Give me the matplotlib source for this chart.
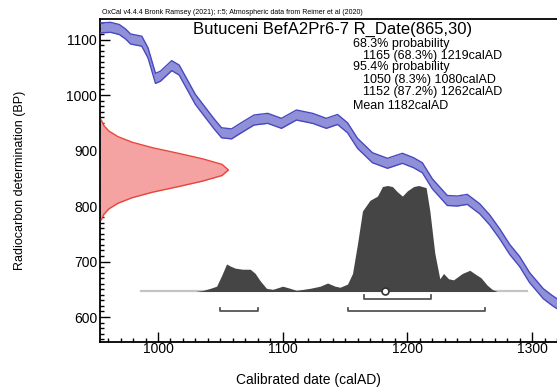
import numpy as np
import matplotlib
matplotlib.use("Agg")
import matplotlib.pyplot as plt
from matplotlib.ticker import MultipleLocator

plt.rcParams['font.family'] = ['Liberation Sans', 'DejaVu Sans']

# calibration curve (IntCal20 band), cal AD vs BP
curve_year = [954, 962, 969, 974, 978, 987, 992, 998, 1002, 1011, 1017, 1030,
              1045, 1051, 1059, 1066, 1077, 1088, 1099, 1111, 1124, 1135, 1144,
              1152, 1160, 1172, 1184, 1196, 1205, 1212, 1220, 1232, 1240, 1248,
              1258, 1266, 1274, 1282, 1290, 1298, 1309, 1316, 1320, 1328]
curve_bp = [1121, 1122, 1118, 1110, 1101, 1097, 1076, 1030, 1034, 1053, 1045, 992,
            948, 932, 930, 940, 955, 958, 949, 964, 958, 949, 956,
            941, 913, 887, 877, 886, 878, 869, 840, 810, 809, 812,
            795, 775, 750, 722, 700, 671, 642, 630, 624, 612]
curve_err = 9

# radiocarbon date R_Date(865,30), relative density
date_bp = [775, 785, 795, 805, 815, 825, 835, 845, 855, 865,
           875, 885, 895, 905, 915, 925, 935, 945, 955]
date_dens = [0.01, 0.03, 0.07, 0.14, 0.25, 0.41, 0.61, 0.80, 0.95, 1.0,
             0.95, 0.80, 0.61, 0.41, 0.25, 0.14, 0.07, 0.03, 0.01]

# calibrated posterior, relative probability
post_year = [1030, 1036, 1042, 1047, 1051, 1055, 1058, 1062, 1068, 1074, 1078,
             1082, 1087, 1092, 1100, 1106, 1111, 1122, 1130, 1136, 1142, 1146,
             1152, 1156, 1160, 1164, 1170, 1176, 1180, 1184, 1188, 1192, 1196,
             1200, 1205, 1209, 1215, 1218, 1222, 1226, 1229, 1233, 1237, 1244,
             1250, 1255, 1259, 1264, 1268, 1272]
post_prob = [0.0, 0.01, 0.03, 0.05, 0.15, 0.26, 0.24, 0.22, 0.21, 0.21, 0.17,
             0.10, 0.03, 0.02, 0.05, 0.03, 0.01, 0.03, 0.05, 0.08, 0.05, 0.04,
             0.07, 0.17, 0.45, 0.76, 0.86, 0.90, 0.99, 1.0, 0.99, 0.94, 0.90,
             0.95, 0.99, 1.0, 0.98, 0.76, 0.36, 0.12, 0.17, 0.12, 0.11, 0.17,
             0.20, 0.16, 0.13, 0.06, 0.02, 0.0]

range68 = [(1165, 1219)]
range95 = [(1050, 1080), (1152, 1262)]
mean_ad = 1182
baseline_span = (986, 1296)

header = "OxCal v4.4.4 Bronk Ramsey (2021); r:5; Atmospheric data from Reimer et al (2020)"
title = "Butuceni BefA2Pr6-7 R_Date(865,30)"
info_lines = [("68.3% probability", 0), ("1165 (68.3%) 1219calAD", 1),
              ("95.4% probability", 0), ("1050 (8.3%) 1080calAD", 1),
              ("1152 (87.2%) 1262calAD", 1), ("Mean 1182calAD", 0)]
info_y = [44, 55.5, 67, 80, 92, 106]

W, H = 557, 387
fig = plt.figure(figsize=(W / 100, H / 100), dpi=100)
ax = fig.add_axes([100 / W, 45 / H, 467 / W, 323 / H])
x0, x1 = 953.5, 953.5 + 467 / 1.247
ax.set_xlim(x0, x1)
ax.set_ylim(555, 1137)

# calibration band
cy = np.array(curve_bp)
ax.fill_between(curve_year, cy - curve_err, cy + curve_err, color='#9090d8', lw=0, zorder=2)
ax.plot(curve_year, cy - curve_err, color='#4848c0', lw=1.0, zorder=3)
ax.plot(curve_year, cy + curve_err, color='#4848c0', lw=1.0, zorder=3)

# radiocarbon date on the y axis
dw = x0 + np.array(date_dens) * 103
ax.fill_betweenx(date_bp, x0, dw, color='#f4a2a2', lw=0, zorder=2)
ax.plot(dw, date_bp, color='#e8463c', lw=1.0, zorder=3)

# posterior
base = 646
ptop = base + np.array(post_prob) * 191
ax.plot(baseline_span, [base, base], color='#c4c4c4', lw=1.6, zorder=3)
ax.fill_between(post_year, base, ptop, color='#454545', lw=0, zorder=4)

def bracket(a, b, y):
    ax.plot([a, a, b, b], [y + 7, y, y, y + 7], color='#555555', lw=1.3, zorder=4)

for a, b in range68:
    bracket(a, b, 632)
for a, b in range95:
    bracket(a, b, 610)
ax.plot(mean_ad, base, 'o', ms=5, mfc='white', mec='#333333', mew=1.2, zorder=5)

ax.xaxis.set_major_locator(MultipleLocator(100))
ax.xaxis.set_minor_locator(MultipleLocator(10))
ax.yaxis.set_major_locator(MultipleLocator(100))
ax.yaxis.set_minor_locator(MultipleLocator(10))
ax.tick_params(which='both', direction='in', labelsize=10, width=1.0)
ax.tick_params(which='major', length=7)
ax.tick_params(which='minor', length=3)
ax.tick_params(axis='x', pad=0)
ax.tick_params(axis='y', pad=2)
for s in ax.spines.values():
    s.set_linewidth(1.3)

ax.set_xlabel("Calibrated date (calAD)", fontsize=10)
ax.xaxis.set_label_coords(0.5 - 25 / 467, -38 / 323)
ax.xaxis.label.set_va('center')
ax.set_ylabel("Radiocarbon determination (BP)", fontsize=9)
ax.yaxis.set_label_coords(-80 / 467, 0.5)
ax.yaxis.label.set_va('center')

fig.text(102 / W, 1 - 13 / H, header, fontsize=5, va='center')
fig.text(193 / W, 1 - 29 / H, title, fontsize=12, va='center')
for (txt, ind), y in zip(info_lines, info_y):
    fig.text((353 + 10 * ind) / W, 1 - y / H, txt, fontsize=9, va='center')

fig.savefig("out.png", dpi=100)
